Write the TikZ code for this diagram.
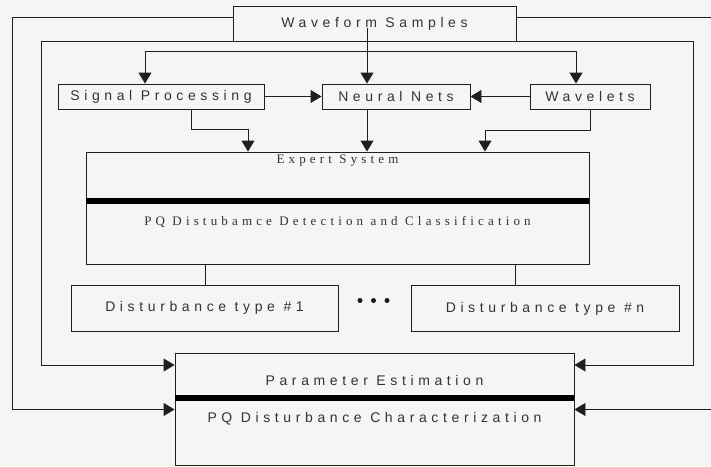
\documentclass[tikz,border=0pt]{standalone}
\usepackage{fontspec}
\setmainfont{Liberation Serif}
\newfontfamily\lsans[LetterSpace=33]{Liberation Sans}
\newfontfamily\lserif[LetterSpace=32]{Liberation Serif}
\usetikzlibrary{arrows.meta,calc}
\begin{document}
\begin{tikzpicture}[x=1pt,y=-1pt,
  ln/.style={draw=black!88, line width=0.9pt},
  box/.style={ln, rectangle, inner sep=0pt, font=\lsans\fontsize{14}{16}\selectfont, text=black!80},
  arr/.style={ln, -{Triangle[length=11pt,width=13pt]}},
  bar/.style={draw=black, line width=6pt},
  stxt/.style={font=\lserif\fontsize{13}{15}\selectfont, text=black!80, inner sep=0pt},
  ptxt/.style={font=\lsans\fontsize{14}{16}\selectfont, text=black!80, inner sep=0pt},
  dotn/.style={circle, fill=black!90, inner sep=0pt, minimum size=5pt}]
\useasboundingbox (0,0) rectangle (711,466);
\fill[black!4] (0,0) rectangle (711,466);
% boxes
\node[box, minimum width=283pt, minimum height=35pt] (ws) at (374.5,23.5) {Waveform Samples};
\node[box, minimum width=206pt, minimum height=25pt] (sp) at (161,96.5) {Signal Processing};
\node[box, minimum width=148pt, minimum height=25pt] (nn) at (396,96.5) {Neural Nets};
\node[box, minimum width=120pt, minimum height=25pt] (wv) at (590,96.5) {Wavelets};
\node[box, minimum width=503pt, minimum height=112pt] (es) at (337.5,208) {};
\node[box, minimum width=267pt, minimum height=46pt] (d1) at (204.5,308) {Disturbance type \#1};
\node[box, minimum width=268pt, minimum height=46pt] (dn) at (545,308.5) {Disturbance type \#n};
\node[box, minimum width=399pt, minimum height=112pt] (pe) at (374.5,409) {};
% texts inside the big boxes
\node[stxt] (est) at (337.5,160.5) {Expert System};
\node[stxt] (pqd) at (337.5,222) {PQ Distubamce Detection and Classification};
\node[ptxt] (pet) at (374.5,380) {Parameter Estimation};
\node[ptxt] (pqc) at (374.5,419) {PQ Disturbance Characterization};
% thick dividers
\coordinate (esb) at (0,201);
\coordinate (peb) at (0,398);
\draw[bar] (es.west |- esb) -- (es.east |- esb);
\draw[bar] (pe.west |- peb) -- (pe.east |- peb);
% dots
\node[dotn] (dt1) at (360,300.5) {};
\node[dotn] (dt2) at (373.5,300.5) {};
\node[dotn] (dt3) at (387,300.5) {};
% helper coordinates
\coordinate (xL1) at (12,0);
\coordinate (xL2) at (41,0);
\coordinate (xR1) at (716,0);
\coordinate (xR2) at (693,0);
\coordinate (yT1) at (0,17);
\coordinate (yB1) at (0,409.5);
\coordinate (yB2) at (0,365);
\coordinate (bus) at (367,51);
\coordinate (wsin) at (367,28);
\coordinate (xsp) at (145,0);
\coordinate (xwv) at (576,0);
\coordinate (xsp2) at (191,0);
\coordinate (xes1) at (248,0);
\coordinate (ym1) at (0,129);
\coordinate (xes3) at (485,0);
\coordinate (ym2) at (0,130);
\coordinate (xd1) at (205,0);
\coordinate (xdn) at (515,0);
\begin{scope}
\clip (0,0) rectangle (711,466);
% outer feedback lines
\draw[arr] (ws.west |- yT1) -| (xL1 |- yB1) -- (pe.west |- yB1);
\draw[arr] (ws.south west) -| (xL2 |- yB2) -- (pe.west |- yB2);
\draw[arr] (ws.east |- yT1) -| (xR1 |- yB1) -- (pe.east |- yB1);
\draw[arr] (ws.south east) -| (xR2 |- yB2) -- (pe.east |- yB2);
% distribution bus
\draw[arr] (bus) -| (sp.north -| xsp);
\draw[arr] (bus) -| (wv.north -| xwv);
\draw[arr] (wsin) -- (nn.north -| wsin);
% second row
\draw[arr] (sp.east) -- (nn.west);
\draw[arr] (wv.west) -- (nn.east);
\draw[arr] (sp.south -| xsp2) |- (xes1 |- ym1) -- (es.north -| xes1);
\draw[arr] (nn.south -| wsin) -- (es.north -| wsin);
\draw[arr] (wv.south) |- (xes3 |- ym2) -- (es.north -| xes3);
% to disturbance boxes
\draw[ln] (es.south -| xd1) -- (d1.north -| xd1);
\draw[ln] (es.south -| xdn) -- (dn.north -| xdn);
\end{scope}
\end{tikzpicture}
\end{document}
